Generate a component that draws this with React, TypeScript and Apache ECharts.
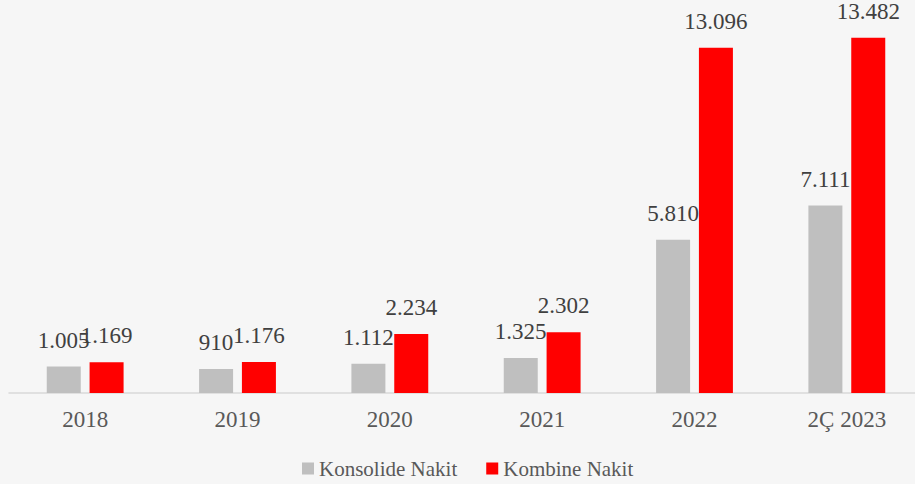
import React, { useEffect, useRef } from "react";
import * as echarts from "echarts";

const categories = ["2018", "2019", "2020", "2021", "2022", "2Ç 2023"];
const konsolide = [1005, 910, 1112, 1325, 5810, 7111];
const kombine = [1169, 1176, 2234, 2302, 13096, 13482];
const seriesNames = ["Konsolide Nakit", "Kombine Nakit"];

const fmt = (v: number) => {
  const s = String(Math.round(v));
  return s.replace(/\B(?=(\d{3})+(?!\d))/g, ".");
};

const FONT = "Liberation Serif";

export default function App() {
  const ref = useRef<HTMLDivElement>(null);
  useEffect(() => {
    if (!ref.current) return;
    const chart = echarts.init(ref.current, null, { renderer: "svg" });
    const label = {
      show: true,
      position: "top" as const,
      distance: 15,
      fontFamily: FONT,
      fontSize: 23,
      color: "#404040",
      formatter: (p: any) => fmt(p.value),
    };
    chart.setOption({
      animation: false,
      backgroundColor: "#F6F6F6",
      grid: { left: 9, right: 9, top: 24, bottom: 91, containLabel: false },
      legend: {
        data: seriesNames,
        left: 297,
        top: 453,
        itemWidth: 12,
        itemHeight: 12,
        itemGap: 29,
        icon: "rect",
        textStyle: { fontFamily: FONT, fontSize: 21, color: "#595959" },
      },
      xAxis: {
        type: "category",
        data: categories,
        axisLine: { show: true, lineStyle: { color: "#D9D9D9", width: 1.5 } },
        axisTick: { show: false },
        axisLabel: { fontFamily: FONT, fontSize: 23, color: "#595959", margin: 15 },
      },
      yAxis: {
        type: "value",
        min: 0,
        max: 14000,
        show: false,
        splitLine: { show: false },
      },
      series: [
        {
          name: seriesNames[0],
          type: "bar",
          data: konsolide,
          barWidth: 34,
          barGap: "26%",
          itemStyle: { color: "#BFBFBF" },
          label,
        },
        {
          name: seriesNames[1],
          type: "bar",
          data: kombine,
          barWidth: 34,
          barGap: "26%",
          itemStyle: { color: "#FF0000" },
          label,
        },
      ],
    });
    return () => chart.dispose();
  }, []);
  return (
    <div
      style={{
        position: "fixed",
        left: 0,
        top: 0,
        width: 915,
        height: 484,
        overflow: "hidden",
        background: "#F6F6F6",
      }}
    >
      <div ref={ref} style={{ width: 932, height: 484 }} />
    </div>
  );
}
